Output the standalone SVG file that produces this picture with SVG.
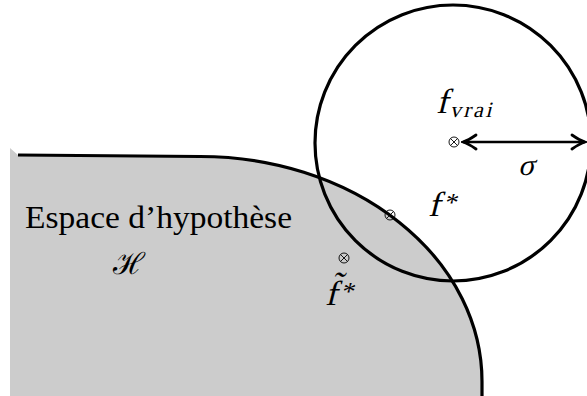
<svg xmlns="http://www.w3.org/2000/svg" width="587" height="396" viewBox="0 0 587 396">
<style>
  .txt { font-family: "Liberation Serif", "DejaVu Serif", serif; fill: #000; }
  .math { font-family: "Liberation Serif", "DejaVu Serif", serif; font-style: normal; fill: #000; }
  .thick { fill: none; stroke: #000; stroke-width: 3.2; }
  .otimes { fill: none; stroke: #000; stroke-width: 0.9; }
</style>
<defs>
  <g id="otimes">
    <circle class="otimes" cx="0" cy="0" r="5"/>
    <path class="otimes" d="M-3.5,-3.5 L3.5,3.5 M-3.5,3.5 L3.5,-3.5"/>
  </g>
  <marker id="arrowhead" viewBox="-15 -9 17 18" markerWidth="17" markerHeight="18" refX="0" refY="0" orient="auto-start-reverse" markerUnits="userSpaceOnUse">
    <path d="M-13,-7 Q-5,-1.5 0,0 Q-5,1.5 -13,7" fill="none" stroke="#000" stroke-width="2.8" stroke-linecap="round"/>
  </marker>
</defs>

<g id="espace-hypothese">
  <path d="M10,148 L18,155 L200,156.5 A282,225 0 0 1 482,381.5 L482,396 L10,396 Z" fill="#cccccc"/>
  <path class="thick" d="M18,155 L200,156.5 A282,225 0 0 1 482,381.5 L482,396"/>
  <text class="txt" x="25" y="228" font-size="31" textLength="267" lengthAdjust="spacingAndGlyphs">Espace d’hypothèse</text>
  <text class="txt" x="129" y="274" font-size="30" text-anchor="middle">ℋ</text>
</g>

<g id="boule">
  <circle class="thick" cx="453" cy="143" r="138"/>
</g>

<g id="connectors">
  <line x1="463" y1="142" x2="585" y2="142" stroke="#000" stroke-width="2.6" marker-start="url(#arrowhead)" marker-end="url(#arrowhead)"/>
</g>

<g id="f-vrai">
  <use href="#otimes" x="454" y="142"/>
  <text class="math" transform="translate(436,113) skewX(-14)" x="0" y="0" font-size="35">f<tspan font-size="22" dx="3" dy="4" letter-spacing="2.5">vrai</tspan></text>
</g>

<g id="sigma">
  <text class="math" transform="translate(518,175) skewX(-14)" x="0" y="0" font-size="30">σ</text>
</g>

<g id="f-star">
  <use href="#otimes" x="390" y="215"/>
  <text class="math" transform="translate(428,216) skewX(-14)" x="0" y="0" font-size="35">f<tspan font-size="26" dx="2" dy="-5">*</tspan></text>
</g>

<g id="f-tilde-star">
  <use href="#otimes" x="344" y="258"/>
  <text class="math" transform="translate(325,305) skewX(-14)" x="0" y="0" font-size="35">f̃<tspan font-size="26" dx="2" dy="-5">*</tspan></text>
</g>
</svg>
